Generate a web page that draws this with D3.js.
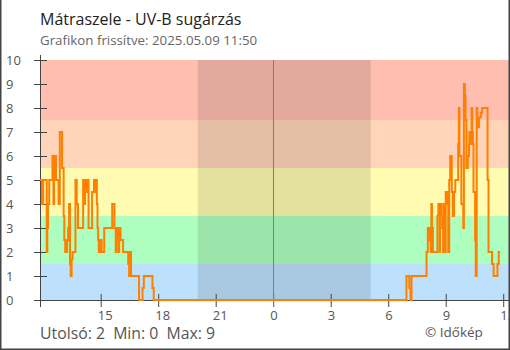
<!DOCTYPE html>
<html>
<head>
<meta charset="utf-8">
<script src="https://cdn.jsdelivr.net/npm/d3@7"></script>
<style>
  body { margin: 0; background: #fff; }
  svg { display: block; font-family: "Open Sans", sans-serif; }
</style>
</head>
<body>
<svg id="chart" width="510" height="350"></svg>
<script>
// Station and update info
const stationName = "Mátraszele";
const updatedAt = "2025.05.09 11:50";
const firstDay = "2025-05-08";

// UV-B readings: each value holds from its time until the next change
const stepTimes = [
  "11:50","11:56","12:00","12:11","12:13","12:15","12:19","12:29","12:32","12:34",
  "12:40","12:48","12:52","12:59","13:04","13:06","13:09","13:15","13:18","13:21",
  "13:24","13:26","13:29","13:32","13:41","13:45","13:49","14:05","14:09","14:11",
  "14:14","14:18","14:22","14:33","14:39","14:44","14:46","14:48","14:50","14:52",
  "14:54","15:00","15:03","15:11","15:36","15:43","15:47","15:49","15:52","15:56",
  "15:58","16:02","16:10","16:26","16:29","16:31","16:35","17:00","17:11","17:15",
  "17:42","17:46",
  "06:57","07:06","07:10","07:13","08:00","08:04","08:08","08:10","08:13","08:15",
  "08:17","08:20","08:34","08:37","08:41","08:42","08:46","08:49","08:52","08:53",
  "08:57","08:59","09:00","09:05","09:08","09:11","09:14","09:19","09:22","09:26",
  "09:30","09:39","09:41","09:43","09:49","09:55","09:57","10:00","10:02","10:05",
  "10:09","10:13","10:14","10:19","10:21","10:23","10:25","10:27","10:32","10:34",
  "10:37","10:39","10:44","10:50","10:54","11:11","11:14","11:25","11:30","11:42",
  "11:46"
];
const stepValues = [
  5,4,5,2,3,4,5,6,4,6,
  5,4,7,5.5,3.5,2.5,2,2.5,3,4,
  1.5,1,1.7,2,5,4,3,5,4,5,
  4.5,5,3,4.5,5,4.5,5,4,3,2.5,
  2,2.5,2,3,4,3,2,3,2.5,2,
  3,2.5,2,1.5,1,2,1,0,0.5,1,
  0.5,0,
  1,0.5,0,1,2,3,2.5,3,2,4,
  3,2,3.5,4,2,4,3.5,3,2,4,
  3.5,2,4.5,4,2,5,6,4.5,3.5,4.5,
  5,6.5,8,6,4,3,9,8.5,7.5,5.5,
  6,6.5,7,6.5,8,7,6.5,4.5,2.5,1,
  8,7.2,7.6,7.8,8,5,2,1.5,1,1.5,
  2
];
const lastTime = "11:50";
const axisEndTime = "12:15";

// Risk bands of the UV scale
const bandLimits = [0, 1.5, 3.5, 5.5, 7.5, 10];
const bandColors = ["#bde0fc", "#aeffbf", "#fffbb0", "#ffd4b9", "#ffbeb0"];

// Dark hours between sunset and sunrise
const nightStart = "20:04";
const nightEnd = "05:05";

const yTickValues = [0, 1, 2, 3, 4, 5, 6, 7, 8, 9, 10];
const xTickTimes = ["15:00", "18:00", "21:00", "00:00", "03:00", "06:00", "09:00", "12:00"];

// Turn clock times into dates, rolling over to the next day after midnight
const parse = d3.timeParse("%Y-%m-%d %H:%M");
const day0 = parse(firstDay + " 00:00");
const day1 = d3.timeDay.offset(day0, 1);
function clockMinutes(t) {
  const [h, m] = t.split(":").map(Number);
  return h * 60 + m;
}
function toDates(times, startMins) {
  let offset = 0, prev = startMins;
  return times.map(t => {
    const mins = clockMinutes(t);
    if (mins < prev) offset += 1;
    prev = mins;
    return d3.timeMinute.offset(d3.timeDay.offset(day0, offset), mins);
  });
}
const dates = toDates(stepTimes.concat([lastTime]), -1);
const series = stepValues.map((v, i) => ({ t: dates[i], v }));
series.push({ t: dates[dates.length - 1], v: stepValues[stepValues.length - 1] });

const startT = dates[0];
const endT = d3.timeMinute.offset(day1, clockMinutes(axisEndTime));
const tickDates = toDates(xTickTimes, 11 * 60);
const [nightA, nightB] = toDates([nightStart, nightEnd], 0);

const svg = d3.select("#chart");
const pL = 40, pR = 508, pT = 60, pB = 300;

const x = d3.scaleTime().domain([startT, endT]).range([pL, pR]);
const y = d3.scaleLinear().domain([0, 10]).range([pB, pT]);

// Background bands
svg.append("g").selectAll("rect")
  .data(bandColors)
  .join("rect")
  .attr("x", pL)
  .attr("width", pR - pL + 2)
  .attr("y", (c, i) => y(bandLimits[i + 1]))
  .attr("height", (c, i) => y(bandLimits[i]) - y(bandLimits[i + 1]))
  .attr("fill", c => c);

// Night shading
svg.append("rect")
  .attr("x", x(nightA))
  .attr("width", x(nightB) - x(nightA))
  .attr("y", pT)
  .attr("height", pB - pT)
  .attr("fill", "#000")
  .attr("fill-opacity", 0.105);

// Axes
const axisColor = "#444";
const xAxis = d3.axisBottom(x)
  .tickValues(tickDates)
  .tickSize(6)
  .tickFormat(d3.timeFormat("%-H"));
const gx = svg.append("g").attr("transform", `translate(0,${pB})`).call(xAxis);
gx.select(".domain").remove();
gx.selectAll(".tick line").attr("y1", -6).attr("y2", 7).attr("stroke", axisColor);
gx.selectAll(".tick text")
  .attr("y", 20).attr("dy", null)
  .attr("dx", -3.5)
  .attr("text-anchor", "start")
  .attr("fill", "#555")
  .style("font-size", "13px")
  .style("font-family", "'Open Sans', sans-serif");

const yAxis = d3.axisLeft(y).tickValues(yTickValues).tickSize(6);
const gy = svg.append("g").attr("transform", `translate(${pL},0)`).call(yAxis);
gy.select(".domain").remove();
gy.selectAll(".tick line").attr("x1", -6).attr("x2", 7).attr("stroke", axisColor);
gy.selectAll(".tick text")
  .attr("x", 6 - pL)
  .attr("dy", "0.35em")
  .attr("text-anchor", "start")
  .attr("fill", "#555")
  .style("font-size", "13px")
  .style("font-family", "'Open Sans', sans-serif");

svg.append("line")
  .attr("x1", pL + 0.5).attr("x2", pL + 0.5)
  .attr("y1", pT - 5).attr("y2", pB + 7)
  .attr("stroke", axisColor);
svg.append("line")
  .attr("x1", pL).attr("x2", pR + 2)
  .attr("y1", pB + 0.5).attr("y2", pB + 0.5)
  .attr("stroke", axisColor);

// Midnight marker
const mid = Math.round(x(day1)) + 0.5;
svg.append("line")
  .attr("x1", mid).attr("x2", mid)
  .attr("y1", pT).attr("y2", pB + 7)
  .attr("stroke", "#3b8fd4")
  .attr("stroke-width", 1);

// UV-B line
const line = d3.line()
  .x(d => x(d.t))
  .y(d => y(d.v))
  .curve(d3.curveStepAfter);
svg.append("path")
  .datum(series)
  .attr("d", line)
  .attr("fill", "none")
  .attr("stroke", "#ff8000")
  .attr("stroke-width", 2)
  .attr("stroke-linejoin", "miter");

// Titles
svg.append("text")
  .attr("x", 40).attr("y", 25)
  .attr("fill", "#222")
  .style("font-size", "16px")
  .text(stationName + " - UV-B sugárzás");
svg.append("text")
  .attr("x", 40).attr("y", 45)
  .attr("fill", "#666")
  .style("font-size", "13.3px")
  .text("Grafikon frissítve: " + updatedAt);

// Summary
const lastVal = stepValues[stepValues.length - 1];
const minVal = d3.min(stepValues), maxVal = d3.max(stepValues);
svg.append("text")
  .attr("x", 40).attr("y", 339)
  .attr("fill", "#555")
  .style("font-size", "15.8px")
  .style("white-space", "pre")
  .text(`Utolsó: ${lastVal}  Min: ${minVal}  Max: ${maxVal}`);
svg.append("text")
  .attr("x", 425).attr("y", 337)
  .attr("fill", "#555")
  .style("font-size", "13.5px")
  .text("© Időkép");

// Frame
svg.append("path")
  .attr("d", "M0.75,0 V349.25 H509.25 V0")
  .attr("fill", "none")
  .attr("stroke", "#444")
  .attr("stroke-width", 1.5);
</script>
</body>
</html>
